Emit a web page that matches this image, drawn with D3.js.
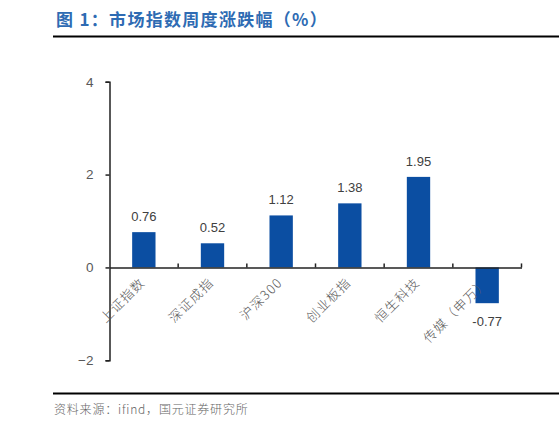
<!DOCTYPE html>
<html><head><meta charset="utf-8">
<script src="https://cdn.jsdelivr.net/npm/d3@7"></script>
<style>body{margin:0;background:#fff}svg{display:block}</style>
</head><body>
<svg id="c" width="559" height="429"></svg>
<script>
const categories = ["上证指数","深证成指","沪深300","创业板指","恒生科技","传媒（申万）"];
const values = [0.76, 0.52, 1.12, 1.38, 1.95, -0.77];
const yTicks = [-2, 0, 2, 4];
const titleText = "图 1：市场指数周度涨跌幅（%）";
const sourceText = "资料来源：ifind，国元证券研究所";

(function () {
const svg = d3.select("#c");
const pLeft = 109.5, pRight = 521.5, pTop = 81.7, pBottom = 360.3;
const x = d3.scaleBand().domain(categories).range([pLeft, pRight]).paddingInner(0.66).paddingOuter(0.33);
const xb = d3.scaleBand().domain(categories).range([pLeft, pRight]);
const y = d3.scaleLinear().domain([-2, 4]).range([pBottom, pTop]);

// title
svg.append("text").attr("x", 56).attr("y", 26).attr("fill", "#2e6bb3")
  .style("font-family", "'Noto Sans CJK SC'").style("font-weight", "700").style("font-size", "17px")
  .style("letter-spacing", "1.3px")
  .text(titleText);
svg.append("line").attr("x1", 53).attr("x2", 559).attr("y1", 36.5).attr("y2", 36.5).attr("stroke", "#000").attr("stroke-width", 2);
svg.append("line").attr("x1", 53).attr("x2", 559).attr("y1", 393.5).attr("y2", 393.5).attr("stroke", "#000").attr("stroke-width", 2);
svg.append("text").attr("x", 54).attr("y", 414).attr("fill", "#666")
  .style("font-family", "'Noto Sans CJK SC'").style("font-size", "12px").style("font-weight", "300")
  .style("letter-spacing", "0.8px")
  .text(sourceText);

// bars
svg.selectAll("rect.bar").data(values).enter().append("rect")
  .attr("x", (d, i) => x(categories[i]))
  .attr("width", x.bandwidth())
  .attr("y", d => y(Math.max(0, d)))
  .attr("height", d => Math.abs(y(d) - y(0)))
  .attr("fill", "#0b4ea2");

// value labels
svg.selectAll("text.val").data(values).enter().append("text")
  .attr("x", (d, i) => x(categories[i]) + x.bandwidth() / 2)
  .attr("y", d => d >= 0 ? y(d) - 11 : y(d) + 23)
  .attr("text-anchor", "middle").attr("fill", "#404040")
  .style("font-family", "'Liberation Sans', Arial").style("font-size", "13px")
  .text(d => d.toFixed(2));

// y axis
const ya = svg.append("g").attr("transform", `translate(${pLeft},0)`)
  .call(d3.axisLeft(y).tickValues(yTicks).tickSize(4).tickPadding(12).tickFormat(d3.format("d")));
ya.select(".domain").attr("stroke", "#222").attr("stroke-width", 1.5);
ya.selectAll(".tick line").attr("stroke", "#222").attr("stroke-width", 1.5);
ya.selectAll("text").attr("fill", "#595959").style("font-family", "'Liberation Sans', Arial").style("font-size", "13.5px");

// x axis at zero
const xa = svg.append("g").attr("transform", `translate(0,${y(0)})`)
  .call(d3.axisTop(xb).tickSize(0).tickFormat(""));
xa.select(".domain").attr("stroke", "#222").attr("stroke-width", 1.5);
xa.selectAll(".tick").remove();
const bounds = d3.range(categories.length + 1).map(i => pLeft + i * xb.step());
svg.selectAll("line.xt").data(bounds.slice(1)).enter().append("line")
  .attr("x1", d => d).attr("x2", d => d).attr("y1", y(0)).attr("y2", y(0) - 4)
  .attr("stroke", "#222").attr("stroke-width", 1.5);

// category labels rotated
svg.selectAll("text.cat").data(categories).enter().append("text")
  .attr("transform", d => `translate(${xb(d) + xb.bandwidth() / 2 + 2},${y(0) + 16}) rotate(-45)`)
  .attr("text-anchor", "end").attr("fill", "#595959")
  .style("font-family", "'Noto Sans CJK SC'").style("font-weight", "300").style("font-size", "13px")
  .style("letter-spacing", "1.2px")
  .text(d => d);
})();
</script>
</body></html>
